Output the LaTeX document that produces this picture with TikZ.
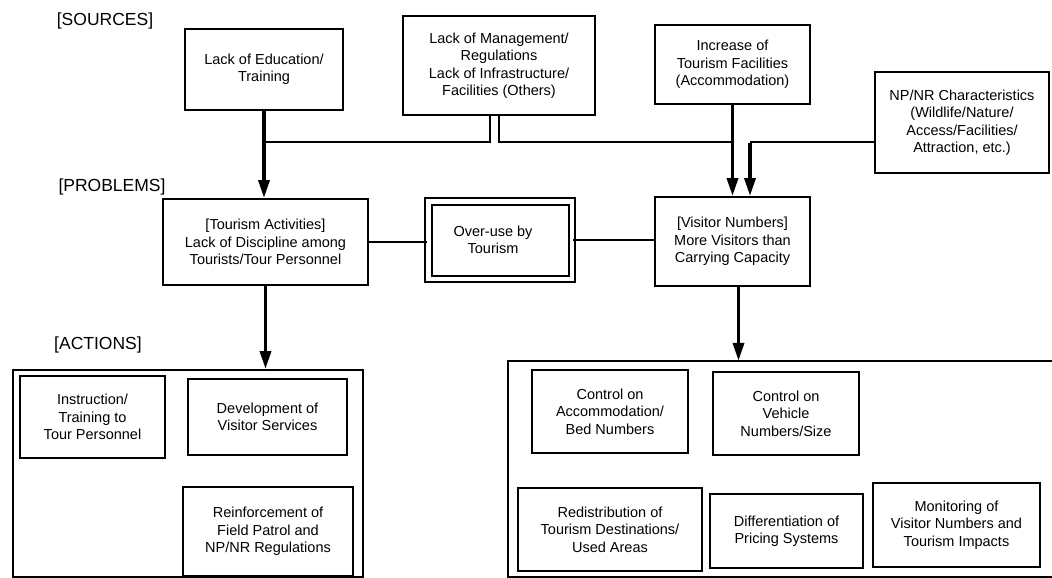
\documentclass[tikz,border=0pt]{standalone}
\usepackage{fontspec}
\setmainfont{Liberation Sans}
\usetikzlibrary{arrows.meta}
\begin{document}
\begin{tikzpicture}[x=1pt,y=-1pt,
  box/.style={draw, line width=2pt, align=center, inner sep=0pt, font=\fontsize{14.5}{17.5}\selectfont},
  lab/.style={font=\fontsize{17.5}{20}\selectfont, anchor=center},
  arr/.style={line width=3.5pt, -{Triangle[length=18pt,width=11pt]}},
  conn/.style={line width=2pt},
  thinconn/.style={line width=1.6pt}]
\useasboundingbox (0,0) rectangle (1052,578);
% section labels
\node[lab] (src) at (105,21) {[SOURCES]};
\node[lab] (prb) at (112,187) {[PROBLEMS]};
\node[lab] (act) at (98,345) {[ACTIONS]};
% sources
\node[box, minimum width=158pt, minimum height=81pt] (edu) at (264,69.5) {Lack of Education/\\Training};
\node[box, minimum width=192pt, minimum height=99pt] (mg) at (499,65.5) {Lack of Management/\\Regulations\\Lack of Infrastructure/\\Facilities (Others)};
\node[box, minimum width=155pt, minimum height=79pt] (inc) at (732.5,64.5) {Increase of\\Tourism Facilities\\(Accommodation)};
\node[box, minimum width=174pt, minimum height=101pt] (np) at (962,122.5) {NP/NR Characteristics\\(Wildlife/Nature/\\Access/Facilities/\\Attraction, etc.)};
% problems
\node[box, minimum width=205pt, minimum height=86pt] (ta) at (265.5,242) {[Tourism Activities]\\Lack of Discipline among\\Tourists/Tour Personnel};
\node[box, double, double distance=4.5pt, minimum width=143.5pt, minimum height=77.5pt] (ov) at (500,240) {Over-use by\hspace*{14pt}\\Tourism\hspace*{14pt}};
\node[box, minimum width=155pt, minimum height=89pt] (vis) at (732.5,241.5) {[Visitor Numbers]\\More Visitors than\\Carrying Capacity};
% actions (left)
\node[box, minimum width=350pt, minimum height=207pt] (lout) at (188,473.5) {};
\node[box, minimum width=145pt, minimum height=82pt] (a1) at (92.5,417) {Instruction/\\Training to\\Tour Personnel};
\node[box, minimum width=159pt, minimum height=76pt] (a2) at (267.5,417) {Development of\\Visitor Services};
\node[box, minimum width=170pt, minimum height=89pt] (a3) at (268,531.5) {Reinforcement of\\Field Patrol and\\NP/NR Regulations};
% actions (right)
\node[minimum width=544pt, minimum height=216pt, inner sep=0pt] (rout) at (780,469) {};
\draw[line width=2pt] (rout.north east) -- (rout.north west) -- (rout.south west) -- (rout.south east);
\node[box, minimum width=156pt, minimum height=83pt] (b1) at (610,411.5) {Control on\\Accommodation/\\Bed Numbers};
\node[box, minimum width=146pt, minimum height=83pt] (b2) at (786,413.5) {Control on\\Vehicle\\Numbers/Size};
\node[box, minimum width=184pt, minimum height=83pt] (b3) at (610,529.5) {Redistribution of\\Tourism Destinations/\\Used Areas};
\node[box, minimum width=153pt, minimum height=74pt] (b4) at (786.5,531) {Differentiation of\\Pricing Systems};
\node[box, minimum width=167pt, minimum height=84pt] (b5) at (956.5,525) {Monitoring of\\Visitor Numbers and\\Tourism Impacts};
% connectors
\coordinate (j1) at (264,142);
\coordinate (j2) at (732.5,142);
\coordinate (j3) at (750,142);
\draw[arr] (edu.south) -- (edu.south |- ta.north);
\draw[conn] ([xshift=-9pt]mg.south) |- (j1);
\draw[conn] ([xshift=0pt]mg.south) |- (j2);
\draw[arr] (inc.south) -- (inc.south |- vis.north);
\draw[conn] (np.west |- j3) -- (j3);
\draw[arr] ([yshift=-1pt]j3) -- (j3 |- vis.north);
\draw[thinconn] (ta.east) -- (ta.east -| ov.west);
\draw[thinconn] (ov.east) -- (ov.east -| vis.west);
\draw[arr] (ta.south) -- (ta.south |- lout.north);
\draw[arr] ([xshift=6pt]vis.south) -- ([xshift=6pt]vis.south |- rout.north);
\end{tikzpicture}
\end{document}
